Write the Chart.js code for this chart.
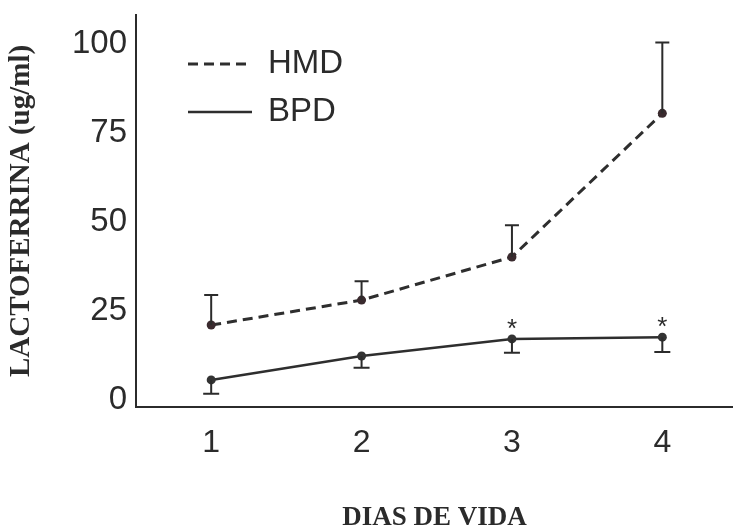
<!DOCTYPE html>
<html lang="es">
<head>
    <meta charset="UTF-8">
    <title>Lactoferrina</title>
    <style>
        html, body { margin: 0; padding: 0; background: #fff; overflow: hidden; }
        #wrap { width: 733px; height: 529px; }
        #wrap canvas { display: block; }
    </style>
</head>
<body>
    <div id="wrap"><canvas id="lactoferrina"></canvas></div>

    <script src="https://cdn.jsdelivr.net/npm/chart.js"></script>
    <script>
        // dias de vida y medias de lactoferrina (ug/ml)
        const dias = [1, 2, 3, 4];
        const hmd = [21.0, 28.0, 40.1, 80.4];
        const hmdUpper = [29.4, 33.3, 49.0, 100.3];
        const bpd = [5.6, 12.3, 17.1, 17.6];
        const bpdLower = [1.7, 9.0, 13.2, 13.4];
        const bpdSignif = ['', '', '*', '*'];
        const yTicks = [0, 25, 50, 75, 100];

        const ink = '#2b2b2b';
        const sans = '"Liberation Sans", Arial, sans-serif';
        const serif = '"Liberation Serif", "Times New Roman", serif';

        // barras de error (HMD hacia arriba, BPD hacia abajo) y asteriscos
        const barras = {
            id: 'barras',
            afterDatasetsDraw(chart) {
                const ctx = chart.ctx;
                const x = chart.scales.x, y = chart.scales.y;
                ctx.save();
                ctx.strokeStyle = ink;
                ctx.lineWidth = 2;
                const bar = (d, from, to, cap) => {
                    const px = x.getPixelForValue(d);
                    const y0 = y.getPixelForValue(from);
                    const y1 = y.getPixelForValue(to);
                    ctx.beginPath();
                    ctx.moveTo(px, y0);
                    ctx.lineTo(px, y1);
                    ctx.moveTo(px - cap / 2, y1);
                    ctx.lineTo(px + cap / 2, y1);
                    ctx.stroke();
                };
                dias.forEach((d, i) => {
                    bar(d, hmd[i], hmdUpper[i], 14);
                    bar(d, bpd[i], bpdLower[i], 16);
                });
                ctx.fillStyle = ink;
                ctx.font = '26px ' + sans;
                ctx.textAlign = 'center';
                ctx.textBaseline = 'alphabetic';
                dias.forEach((d, i) => {
                    if (bpdSignif[i]) {
                        ctx.fillText(bpdSignif[i], x.getPixelForValue(d), y.getPixelForValue(bpd[i]) - 2);
                    }
                });
                ctx.restore();
            }
        };

        // leyenda dentro del area del grafico
        const leyenda = {
            id: 'leyenda',
            afterDraw(chart) {
                const {ctx, chartArea} = chart;
                ctx.save();
                ctx.font = '33px ' + sans;
                ctx.textBaseline = 'middle';
                ctx.textAlign = 'left';
                chart.data.datasets.forEach((ds, i) => {
                    const yy = chartArea.top + 49 + i * 48;
                    const x0 = chartArea.left + 52;
                    ctx.strokeStyle = ds.borderColor;
                    ctx.lineWidth = ds.borderWidth;
                    ctx.setLineDash(ds.borderDash || []);
                    ctx.beginPath();
                    ctx.moveTo(x0, yy);
                    ctx.lineTo(x0 + 64, yy);
                    ctx.stroke();
                    ctx.setLineDash([]);
                    ctx.fillStyle = ink;
                    ctx.fillText(ds.label, x0 + 80, yy);
                });
                ctx.restore();
            }
        };

        new Chart(
            document.getElementById('lactoferrina'),
            {
                type: 'line',
                data: {
                    datasets: [
                        {
                            label: 'HMD',
                            data: dias.map((d, i) => ({x: d, y: hmd[i]})),
                            borderColor: '#2e2e2e',
                            borderWidth: 3,
                            borderDash: [10, 6],
                            pointRadius: 4.5,
                            pointBackgroundColor: '#3a2a2e',
                            pointBorderWidth: 0,
                            tension: 0
                        },
                        {
                            label: 'BPD',
                            data: dias.map((d, i) => ({x: d, y: bpd[i]})),
                            borderColor: '#2e2e2e',
                            borderWidth: 2.5,
                            pointRadius: 4.5,
                            pointBackgroundColor: '#333333',
                            pointBorderWidth: 0,
                            tension: 0
                        }
                    ]
                },
                options: {
                    responsive: true,
                    maintainAspectRatio: false,
                    animation: false,
                    layout: {
                        autoPadding: false,
                        padding: {top: 15, right: 0, bottom: 0, left: 0}
                    },
                    plugins: {
                        legend: {display: false},
                        tooltip: {enabled: false}
                    },
                    scales: {
                        x: {
                            type: 'linear',
                            min: 0.5,
                            max: 4.47,
                            afterBuildTicks: s => { s.ticks = dias.map(v => ({value: v})); },
                            afterFit: s => { s.height = 122; s.paddingLeft = 0; s.paddingRight = 0; },
                            grid: {display: false, drawTicks: false},
                            border: {display: true, color: ink, width: 2},
                            ticks: {
                                padding: 17,
                                color: ink,
                                font: {family: sans, size: 32}
                            },
                            title: {
                                display: true,
                                text: 'DIAS DE VIDA',
                                color: ink,
                                font: {family: serif, size: 27, weight: 'bold', lineHeight: 1},
                                padding: {top: 0, bottom: -3}
                            }
                        },
                        y: {
                            min: -2,
                            max: 108,
                            afterBuildTicks: s => { s.ticks = yTicks.map(v => ({value: v})); },
                            afterFit: s => { s.width = 136; s.paddingTop = 0; s.paddingBottom = 0; },
                            grid: {display: false, drawTicks: false},
                            border: {display: true, color: ink, width: 2},
                            ticks: {
                                padding: 9,
                                color: ink,
                                font: {family: sans, size: 33}
                            },
                            title: {
                                display: true,
                                text: 'LACTOFERRINA (ug/ml)',
                                color: ink,
                                font: {family: serif, size: 29, weight: 'bold', lineHeight: 1},
                                padding: {top: 7, bottom: 0}
                            }
                        }
                    }
                },
                plugins: [barras, leyenda]
            }
        );
    </script>
</body>
</html>
